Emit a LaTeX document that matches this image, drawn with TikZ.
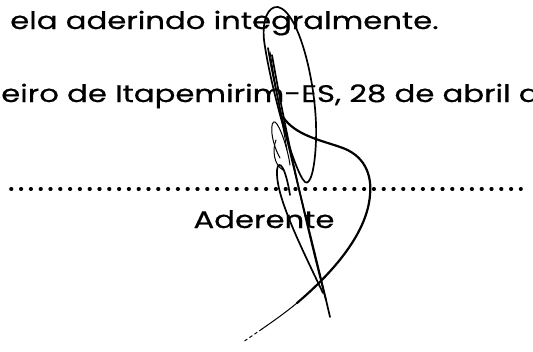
\documentclass[tikz,border=0pt]{standalone}
\usepackage{fontspec}
\setmainfont{Poppins}[FakeBold=0.5]
\usetikzlibrary{positioning}
\tikzset{
  docline/.style={anchor=base west, inner sep=0pt, font=\fontsize{24}{28}\selectfont},
  sigline/.style={line width=1.7pt, line cap=round, line join=round},
  sigthin/.style={line width=1pt, line cap=round},
  dotrule/.style={line width=3.6pt, line cap=round, dash pattern=on 0.6pt off 9.2pt}
}
\newcommand{\docnode}[3] {\node [docline] (#2) at (#1) {\scalebox{1.28}[1]{#3}};}

\begin{document}
\begin{tikzpicture}[x=1pt, y=-1pt]
\useasboundingbox (0,0) rectangle (533,351);
\clip (0,0) rectangle (533,351);
\docnode {10,29} {line1} {ela aderindo integralmente.};
\docnode {1,102} {line2} {eiro de Itapemirim-ES, 28 de abril de};

\coordinate (dotleft) at (11,189);
\coordinate (dotright) at (521,189);
\draw [dotrule] (dotleft) -- (dotright);
\node [docline, anchor=base] (aderente) at (264,228) {\scalebox{1.28}[1]{Aderente}};

% signature
\draw [sigline] (278,7) .. controls (300,12) and (318,90) .. (316,140)
  .. controls (315,170) and (310,186) .. (305,182)
  .. controls (294,172) and (270,85) .. (264,40)
  .. controls (262,20) and (268,6) .. (278,7);
\draw [sigline] (268,48) .. controls (280,120) and (310,230) .. (330,317);
\draw [sigline] (272,55) .. controls (285,130) and (305,220) .. (326,300);
\draw [sigthin] (270,52) .. controls (276,90) and (282,120) .. (287,150);
\draw [sigline] (323,293) .. controls (300,245) and (278,200) .. (277,175)
  .. controls (276,160) and (284,158) .. (290,195);
\draw [sigthin] (280,158) .. controls (270,140) and (270,120) .. (275,122)
  .. controls (280,125) and (288,150) .. (290,165);
\draw [sigthin] (276,140) .. controls (272,150) and (274,165) .. (283,170);
\draw [sigline, line width=2.2pt] (283,117) .. controls (295,135) and (320,140) .. (340,147)
  .. controls (365,155) and (372,175) .. (370,195)
  .. controls (367,235) and (330,275) .. (297,303);
\draw [sigthin] (297,303) .. controls (285,313) and (272,322) .. (262,329);
\draw [sigthin, dash pattern=on 3pt off 3pt] (262,329) -- (243,342);
\end{tikzpicture}
\end{document}
